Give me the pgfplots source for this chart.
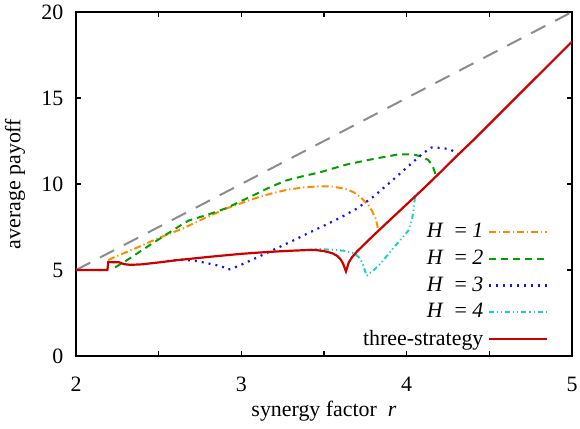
\documentclass[border=0pt,11pt]{standalone}
\usepackage{fontspec}
\setmainfont{Liberation Serif}
\usepackage{pgfplots}
\pgfplotsset{compat=1.18}
\definecolor{cgray}{RGB}{140,140,140}
\definecolor{corange}{RGB}{255,140,0}
\definecolor{cgreen}{RGB}{0,160,0}
\definecolor{cblue}{RGB}{20,20,235}
\definecolor{ccyan}{RGB}{30,205,205}
\definecolor{cred}{RGB}{205,0,0}
\begin{document}
\begin{tikzpicture}
\begin{axis}[
  scale only axis,
  width=248pt, height=172pt,
  xmin=2, xmax=5, ymin=0, ymax=20,
  xtick={2,2.5,3,3.5,4,4.5,5},
  xticklabels={2,,3,,4,,5},
  ytick={0,5,10,15,20},
  tick pos=both, ticklabel pos=left,
  tick align=inside,
  major tick length=2.5pt,
  axis line style={line width=0.9pt},
  every tick/.style={line width=0.7pt, black},
  /pgf/number format/assume math mode=true,
  xticklabel style={anchor=base, yshift=-17.5pt},
  yticklabel style={xshift=-2.5pt},
  xlabel={synergy factor\enspace\textit{r}},
  ylabel={average payoff},
  xlabel style={at={(axis description cs:0.5,0)}, anchor=base, yshift=-30pt},
  ylabel style={at={(axis description cs:-0.123,0.5)}, anchor=center},
  legend style={draw=none, fill=none, at={(rel axis cs:1,0)}, anchor=south east,
    xshift=-9pt, yshift=-0.5pt, row sep=0.5pt},
  legend cell align=right,
  legend plot pos=right,
  legend image code/.code={\draw[#1] (0pt,0pt) -- (29pt,0pt);},
]
\addplot[cgray, line width=1pt, dash pattern=on 8pt off 5.5pt, forget plot] coordinates {(2,5) (5,20)};

\addplot[corange, line width=1pt, dash pattern=on 3.5pt off 1.5pt on 0.6pt off 1.5pt] coordinates {
(2.195,5.58) (2.25,5.82) (2.35,6.22) (2.50,6.86) (2.65,7.43) (2.79,8.07) (2.91,8.58)
(3.07,9.13) (3.17,9.42) (3.27,9.65) (3.37,9.80) (3.48,9.87) (3.55,9.85) (3.60,9.77)
(3.64,9.68) (3.68,9.52) (3.72,9.25) (3.74,9.04) (3.77,8.75) (3.79,8.45) (3.81,8.05)
(3.82,7.70) (3.825,7.45)};
\addlegendentry{\textit{H}\enspace= \textit{1}}

\addplot[cgreen, line width=1pt, dash pattern=on 3.5pt off 2.5pt] coordinates {
(2.236,5.15) (2.31,5.58) (2.41,6.22) (2.55,7.09) (2.63,7.58) (2.68,7.87) (2.81,8.26)
(2.91,8.60) (3.07,9.33) (3.17,9.80) (3.27,10.20) (3.37,10.45) (3.48,10.69) (3.56,10.92)
(3.64,11.14) (3.80,11.46) (3.95,11.72) (4.04,11.72) (4.09,11.60) (4.13,11.40)
(4.155,11.10) (4.17,10.69) (4.175,10.45)};
\addlegendentry{\textit{H}\enspace= \textit{2}}

\addplot[cblue, line width=1.1pt, dash pattern=on 1pt off 2.5pt] coordinates {
(2.55,5.52) (2.63,5.60) (2.72,5.54) (2.80,5.38) (2.88,5.22) (2.92,5.02) (2.96,5.15)
(3.00,5.31) (3.10,5.75) (3.20,6.20) (3.30,6.65) (3.40,7.12) (3.50,7.58) (3.60,8.05)
(3.70,8.58) (3.80,9.27) (3.90,10.10) (4.00,10.95) (4.10,11.80) (4.15,12.12)
(4.20,12.10) (4.26,12.03) (4.31,11.75)};
\addlegendentry{\textit{H}\enspace= \textit{3}}

\addplot[ccyan, line width=1pt, dash pattern=on 2.5pt off 1.5pt on 0.6pt off 1.5pt on 0.6pt off 1.5pt] coordinates {
(3.40,6.16) (3.45,6.22) (3.55,6.18) (3.62,6.12) (3.68,5.97) (3.71,5.75) (3.73,5.45)
(3.748,4.96) (3.758,4.66) (3.80,4.98) (3.84,5.35) (3.90,6.05) (3.94,6.51) (3.98,6.95)
(4.01,7.29) (4.03,7.87) (4.04,8.36) (4.045,8.80) (4.05,9.25)};
\addlegendentry{\textit{H}\enspace= \textit{4}}

\addplot[cred, line width=1.1pt] coordinates {
(2.00,5.00) (2.19,5.00) (2.195,5.46) (2.26,5.45) (2.29,5.34) (2.33,5.30) (2.40,5.33)
(2.50,5.44) (2.60,5.56) (2.70,5.66) (2.80,5.76) (2.90,5.85) (3.00,5.94) (3.10,6.01)
(3.20,6.07) (3.30,6.12) (3.40,6.16) (3.45,6.16) (3.50,6.10) (3.55,5.98) (3.58,5.82)
(3.60,5.62) (3.615,5.38) (3.633,4.92) (3.65,5.45) (3.67,5.75) (3.70,6.08) (3.75,6.55)
(3.80,7.02) (3.90,7.92) (4.00,8.82) (4.10,9.72) (4.20,10.65) (4.30,11.60) (4.40,12.52)
(4.50,13.48) (4.60,14.44) (4.70,15.40) (4.80,16.36) (4.90,17.32) (5.00,18.28)};
\addlegendentry{three-strategy}
\end{axis}
\pgfresetboundingbox
\useasboundingbox ([xshift=-38pt,yshift=-36pt]current axis.south west) rectangle ([xshift=4pt,yshift=6pt]current axis.north east);
\end{tikzpicture}
\end{document}
